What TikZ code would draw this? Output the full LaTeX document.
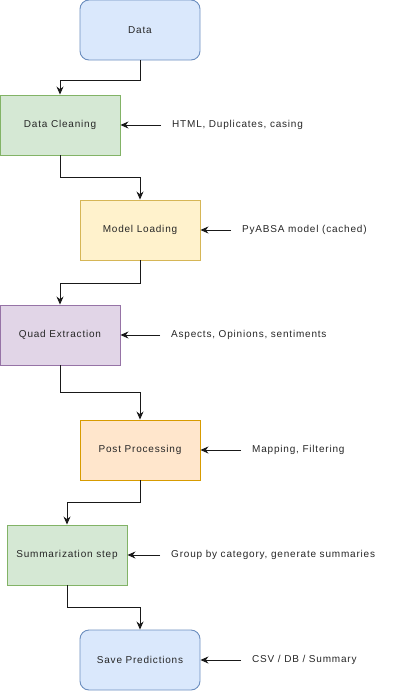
\documentclass[tikz,border=0pt]{standalone}
\usepackage{fontspec}
\setmainfont{Liberation Sans}[LetterSpace=8]
\usetikzlibrary{arrows.meta}
\definecolor{bluef}{HTML}{DAE8FC}\definecolor{blued}{HTML}{6C8EBF}
\definecolor{greenf}{HTML}{D5E8D4}\definecolor{greend}{HTML}{82B366}
\definecolor{yellowf}{HTML}{FFF2CC}\definecolor{yellowd}{HTML}{D6B656}
\definecolor{purplef}{HTML}{E1D5E7}\definecolor{purpled}{HTML}{9673A6}
\definecolor{orangef}{HTML}{FFE6CC}\definecolor{oranged}{HTML}{D79B00}
\tikzset{
  stepbox/.style={draw, line width=0.9pt, minimum width=120pt, minimum height=60pt, inner sep=0pt, font=\fontsize{10}{12}\selectfont, text=black!85},
  bluebox/.style={stepbox, fill=bluef, draw=blued, rounded corners=9pt},
  greenbox/.style={stepbox, fill=greenf, draw=greend},
  yellowbox/.style={stepbox, fill=yellowf, draw=yellowd},
  purplebox/.style={stepbox, fill=purplef, draw=purpled},
  orangebox/.style={stepbox, fill=orangef, draw=oranged},
  note/.style={anchor=west, inner xsep=11pt, inner ysep=2pt, font=\fontsize{10}{12}\selectfont, text=black!85},
  conn/.style={draw=black!90, line width=1pt, -{Stealth[length=8pt,width=7pt]}},
}
\begin{document}
\begin{tikzpicture}[x=1pt,y=-1pt]
\useasboundingbox (0,0) rectangle (411,691);
\node[bluebox]   (d)  at (140,30)  {Data};
\node[greenbox]  (dc) at (60,125)  {Data Cleaning};
\node[yellowbox] (ml) at (140,230) {Model Loading};
\node[purplebox] (qe) at (60,335)  {Quad Extraction};
\node[orangebox] (pp) at (140,450) {Post Processing};
\node[greenbox]  (ss) at (67,555)  {Summarization step};
\node[bluebox]   (sp) at (140,660) {Save Predictions};

\node[note] (n1) at (161,125) {HTML, Duplicates, casing};
\node[note] (n2) at (231,230) {PyABSA model (cached)};
\node[note] (n3) at (160,335) {Aspects, Opinions, sentiments};
\node[note] (n4) at (241,450) {Mapping, Filtering};
\node[note] (n5) at (160,555) {Group by category, generate summaries};
\node[note] (n6) at (241,660) {CSV / DB / Summary};

\draw[conn] (d.south)  -- ++(0,20) -| (dc.north);
\draw[conn] (dc.south) -- ++(0,22) -| (ml.north);
\draw[conn] (ml.south) -- ++(0,23) -| (qe.north);
\draw[conn] (qe.south) -- ++(0,27) -| (pp.north);
\draw[conn] (pp.south) -- ++(0,22) -| (ss.north);
\draw[conn] (ss.south) -- ++(0,22) -| (sp.north);

\draw[conn] (n1.west) -- (dc.east);
\draw[conn] (n2.west) -- (ml.east);
\draw[conn] (n3.west) -- (qe.east);
\draw[conn] (n4.west) -- (pp.east);
\draw[conn] (n5.west) -- (ss.east);
\draw[conn] (n6.west) -- (sp.east);
\end{tikzpicture}
\end{document}
